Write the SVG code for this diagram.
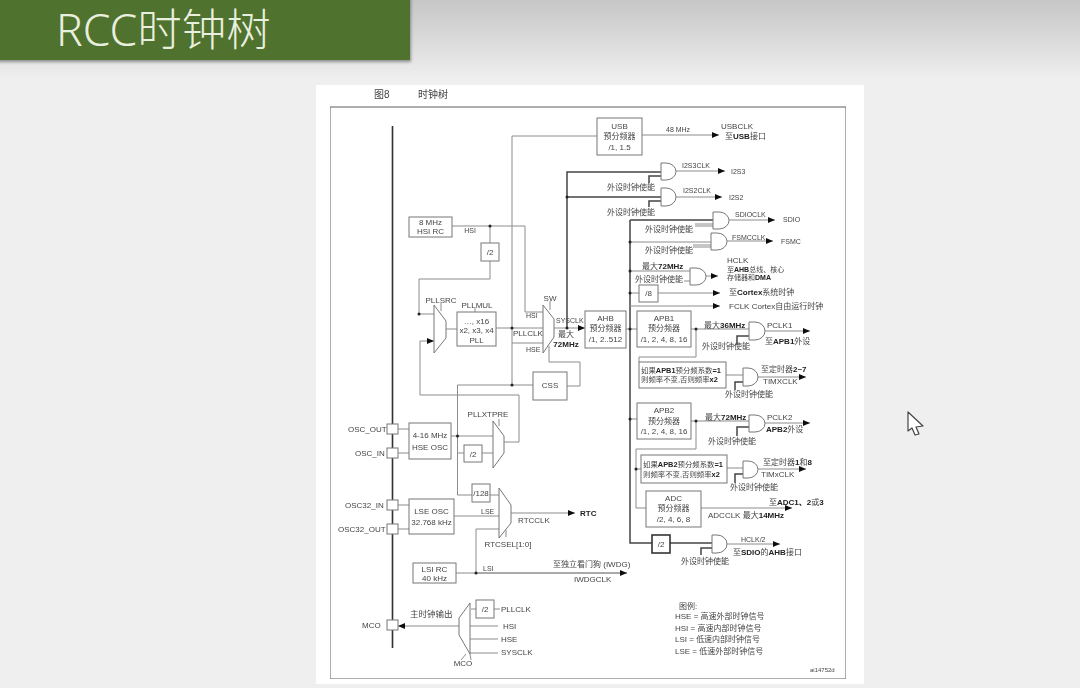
<svg xmlns="http://www.w3.org/2000/svg" width="1080" height="688" viewBox="0 0 1080 688">
<style>
text{font-family:"Liberation Sans","Noto Sans CJK SC",sans-serif;font-size:8px;fill:#444}
.s{font-size:7px}
.m{text-anchor:middle}
.k{font-weight:bold;fill:#222}
.box,.gate,.mux{fill:#fff;stroke:#777;stroke-width:1}
.tb{fill:#fff;stroke:#333;stroke-width:1.6}
.w{fill:none;stroke:#8c8c8c;stroke-width:1}
.d{fill:none;stroke:#444;stroke-width:1.5}
.a{marker-end:url(#arr)}
.dot{fill:#222}
</style>
<defs>
<linearGradient id="bg" x1="0" y1="0" x2="0" y2="1"><stop offset="0" stop-color="#c6c6c6"/><stop offset="1" stop-color="#efefef"/></linearGradient>
<marker id="arr" markerUnits="userSpaceOnUse" markerWidth="8" markerHeight="7" refX="7" refY="3.5" orient="auto"><path d="M0,0.5L7,3.5L0,6.5z" fill="#111"/></marker>
<filter id="soft" x="0" y="0" width="1" height="1"><feGaussianBlur stdDeviation="0.45"/></filter>
<filter id="sh" x="-5%" y="-10%" width="110%" height="125%"><feDropShadow dx="1" dy="2" stdDeviation="1.5" flood-color="#555" flood-opacity="0.6"/></filter>
</defs>
<rect width="1080" height="688" fill="#efefef"/>
<rect width="1080" height="80" fill="url(#bg)"/>
<g id="header"><rect x="-5" y="-5" width="415" height="65" fill="#4f722e" filter="url(#sh)"/>
<text x="56" y="46" style="font-size:44.500px;fill:#e9efdf;font-family:'Noto Sans','Noto Sans CJK SC',sans-serif;font-weight:300">RCC时钟树</text></g>
<rect id="panel" x="316" y="85" width="548" height="599" fill="#fff"/>
<g id="diagram" filter="url(#soft)">
<rect x="330" y="107" width="516" height="572" fill="none" stroke="#777" stroke-width="1.2"/>
<text x="374" y="98" style="font-size:10px">图8</text><text x="418" y="98" style="font-size:10px">时钟树</text>
<g id="connectors">
<path d="M392.500,126V648" fill="none" stroke="#333" stroke-width="1.6"/>
<path class="w" d="M452,226H525V312H543M490,226V243M490,261V279H419V314H434M446,329H457M496,328H543M512,343H543M512,136V385M512,136H597M512,385H457.500V495H472M512,385H533M567,386H580V362H549V346M420,341V395H519V442H504"/>
<path class="w a" d="M420,341H434"/>
<path class="w" d="M398,429H409M398,453H409M398,505H409M398,529H409M451,436H493M457.500,453H464M482,453H493M490,495H499M454,516H499M456,573H476M476,573V529H499M476,573H627M499,419V426M471,609H476M494,609H500M470,626H498M470,639H498M470,653H498M550,301V310M475,308V312M441,303V311M506,530V537M466,654L461,660M470,654L471,660"/>
<path class="w a" d="M476,573H627"/>
<path class="w a" d="M511,513H575"/>
<path class="w a" d="M459,626H398"/>
<path class="w a" d="M642,135H719"/>
<path class="w a" d="M554,328H585"/>
<path class="w" d="M622,329H637M630,419H637M691,329H749M696,329V357H639V362M691,421H749M696,421V449H636V508H646M636,469H641M726,375H743M727,468H743"/>
<path class="d" d="M567,328V172H661M567,197H661M630,220V543H652M630,220H713M670,543H712"/>
<path class="w" d="M630,242H711M630,271H690M630,293H639M684,281H690M695,224H713M695,226H713M693,245H711M693,247H711"/>
<path class="d" d="M649,183V176H661M649,207V201H661M737,345V336H749M735,390V382H743M737,436V427H749M735,483V474H743M701,555V548H712"/>
<path class="w a" d="M658,293H720"/><path class="w a" d="M630,306H720"/>
<path class="w a" d="M676,171H725"/><path class="w a" d="M676,197H722"/><path class="w a" d="M729,220H775"/><path class="w a" d="M727,241H773"/><path class="w a" d="M706,276H718"/><path class="w a" d="M765,331H810"/><path class="w a" d="M758,377H806"/><path class="w a" d="M765,423H810"/><path class="w a" d="M758,469H806"/><path class="w a" d="M701,508H792"/><path class="w a" d="M727,544H780"/>
<g class="dot"><circle cx="490" cy="226" r="1.500"/><circle cx="512" cy="328" r="1.500"/><circle cx="512" cy="385" r="1.500"/><circle cx="567" cy="197" r="1.500"/><circle cx="567" cy="328" r="1.500"/><circle cx="630" cy="242" r="1.500"/><circle cx="630" cy="271" r="1.500"/><circle cx="630" cy="293" r="1.500"/><circle cx="630" cy="329" r="1.500"/><circle cx="630" cy="419" r="1.500"/><circle cx="696" cy="329" r="1.500"/><circle cx="696" cy="421" r="1.500"/><circle cx="636" cy="469" r="1.500"/><circle cx="457.500" cy="436" r="1.500"/><circle cx="476" cy="573" r="1.500"/><circle cx="419" cy="314" r="1.500"/></g>
</g>
<g id="hsi-rc"><rect class="box" x="409" y="217" width="43" height="20"/><text class="m" x="430.500" y="225">8 MHz</text><text class="m" x="430.500" y="234">HSI RC</text></g>
<g id="div2-hsi"><rect class="box" x="481" y="243" width="18" height="18"/><text class="m" x="490" y="255">/2</text></g>
<g id="pllsrc"><path class="mux" d="M434,305L446,321V338L434,353z"/><text class="m" x="441" y="303">PLLSRC</text></g>
<g id="pll"><rect class="box" x="457" y="312" width="39" height="34"/><text class="m" x="476.500" y="324">…, x16</text><text class="m" x="476.500" y="333">x2, x3, x4</text><text class="m" x="476.500" y="343">PLL</text><text class="m" x="477" y="308">PLLMUL</text></g>
<g id="sw"><path class="mux" d="M543,305L554,319V337L543,353z"/><text class="m" x="550" y="301">SW</text></g>
<g id="css"><rect class="box" x="533" y="372" width="34" height="28"/><text class="m" x="550" y="388">CSS</text></g>
<g id="ahb"><rect class="box" x="585" y="311" width="41" height="37"/><text class="m" x="605.500" y="321">AHB</text><text class="m" x="605.500" y="331">预分频器</text><text class="m" x="605.500" y="342" >/1, 2..512</text></g>
<g id="usb"><rect class="box" x="597" y="118" width="45" height="37"/><text class="m" x="619.500" y="129">USB</text><text class="m" x="619.500" y="139">预分频器</text><text class="m" x="619.500" y="150">/1, 1.5</text></g>
<g id="hse-osc"><rect class="box" x="409" y="423" width="42" height="36"/><text class="m" x="430" y="438">4-16 MHz</text><text class="m" x="430" y="450">HSE OSC</text></g>
<g id="div2-hse"><rect class="box" x="464" y="445" width="18" height="17"/><text class="m" x="473" y="457">/2</text></g>
<g id="pllxtpre"><path class="mux" d="M493,421L504,436V453L493,468z"/><text class="m" x="488" y="417">PLLXTPRE</text></g>
<g id="div128"><rect class="box" x="472" y="484" width="18" height="18"/><text class="m" x="481" y="496">/128</text></g>
<g id="rtc-mux"><path class="mux" d="M499,488L511,505V523L499,538z"/><text class="m" x="508" y="547">RTCSEL[1:0]</text></g>
<g id="lse-osc"><rect class="box" x="409" y="499" width="45" height="35"/><text class="m" x="431.500" y="514">LSE OSC</text><text class="m" x="431.500" y="525">32.768 kHz</text></g>
<g id="lsi-rc"><rect class="box" x="413" y="563" width="43" height="20"/><text class="m" x="434.500" y="572">LSI RC</text><text class="m" x="434.500" y="581">40 kHz</text></g>
<g id="mco-mux"><path class="mux" d="M470,603L459,618V635L470,654z"/><text class="m" x="463" y="666">MCO</text></g>
<g id="div2-mco"><rect class="box" x="476" y="600" width="18" height="18"/><text class="m" x="485" y="612">/2</text></g>
<g id="pad-osc-out"><rect class="box" x="387" y="424" width="11" height="10"/><text x="348" y="432">OSC_OUT</text></g>
<g id="pad-osc-in"><rect class="box" x="387" y="448" width="11" height="10"/><text x="355" y="456">OSC_IN</text></g>
<g id="pad-osc32-in"><rect class="box" x="387" y="500" width="11" height="10"/><text x="345" y="508">OSC32_IN</text></g>
<g id="pad-osc32-out"><rect class="box" x="387" y="524" width="11" height="10"/><text x="338" y="532">OSC32_OUT</text></g>
<g id="pad-mco"><rect class="box" x="387" y="620" width="11" height="10"/><text x="362" y="628">MCO</text></g>
<g id="gate-i2s3"><path class="gate" d="M661,163h5a10,8.500 0 0 1 0,17h-5z"/></g>
<g id="gate-i2s2"><path class="gate" d="M661,188h5a10,9 0 0 1 0,18h-5z"/></g>
<g id="gate-sdio"><path class="gate" d="M713,212h6a10,8.500 0 0 1 0,17h-6z"/></g>
<g id="gate-fsmc"><path class="gate" d="M711,233h6a10,8.500 0 0 1 0,17h-6z"/></g>
<g id="gate-hclk"><path class="gate" d="M690,268h6a10,8.500 0 0 1 0,17h-6z"/></g>
<g id="div8"><rect class="box" x="639" y="285" width="19" height="17"/><text class="m" x="648.500" y="296">/8</text></g>
<g id="apb1"><rect class="box" x="637" y="311" width="54" height="36"/><text class="m" x="664" y="321">APB1</text><text class="m" x="664" y="331">预分频器</text><text class="m" x="664" y="342">/1, 2, 4, 8, 16</text></g>
<g id="gate-pclk1"><path class="gate" d="M749,322h6a10,9 0 0 1 0,18h-6z"/></g>
<g id="apb1-mul"><rect class="box" x="639" y="362" width="87" height="26"/><text x="641" y="373" style="font-size:7.400px">如果<tspan class="k">APB1</tspan>预分频系数<tspan class="k">=1</tspan></text><text x="641" y="382" style="font-size:7.400px">则频率不变,否则频率<tspan class="k">x2</tspan></text></g>
<g id="gate-timx"><path class="gate" d="M743,368h5a10,9 0 0 1 0,18h-5z"/></g>
<g id="apb2"><rect class="box" x="637" y="403" width="54" height="36"/><text class="m" x="664" y="413">APB2</text><text class="m" x="664" y="424">预分频器</text><text class="m" x="664" y="434">/1, 2, 4, 8, 16</text></g>
<g id="gate-pclk2"><path class="gate" d="M749,415h6a10,8.500 0 0 1 0,17h-6z"/></g>
<g id="apb2-mul"><rect class="box" x="641" y="455" width="86" height="28"/><text x="643" y="467" style="font-size:7.400px">如果<tspan class="k">APB2</tspan>预分频系数<tspan class="k">=1</tspan></text><text x="643" y="477" style="font-size:7.400px">则频率不变,否则频率<tspan class="k">x2</tspan></text></g>
<g id="gate-tim18"><path class="gate" d="M743,461h5a10,8.500 0 0 1 0,17h-5z"/></g>
<g id="adc"><rect class="box" x="646" y="491" width="55" height="36"/><text class="m" x="673.500" y="501">ADC</text><text class="m" x="673.500" y="511">预分频器</text><text class="m" x="673.500" y="522">/2, 4, 6, 8</text></g>
<g id="div2-sdio"><rect class="tb" x="652" y="535" width="18" height="18"/><text class="m" x="661" y="547">/2</text></g>
<g id="gate-sdio-ahb"><path class="gate" d="M712,535h5a10,9 0 0 1 0,18h-5z"/></g>
<g id="labels">
<text x="470" y="233" text-anchor="middle" class="s">HSI</text>
<text x="526" y="318" class="s">HSI</text><text x="513" y="336">PLLCLK</text><text x="526" y="352" class="s">HSE</text>
<text x="556" y="323" class="s">SYSCLK</text><text class="m" x="566" y="337">最大</text><text class="m k" x="566" y="347">72MHz</text>
<text x="666" y="132" class="s">48 MHz</text><text x="721" y="129">USBCLK</text><text x="725" y="139">至<tspan class="k">USB</tspan>接口</text>
<text x="682" y="168" class="s">I2S3CLK</text><text x="731" y="174" class="s">I2S3</text><text x="683" y="193" class="s">I2S2CLK</text><text x="729" y="200" class="s">I2S2</text>
<text x="607" y="190">外设时钟使能</text><text x="607" y="215">外设时钟使能</text>
<text x="735" y="217" class="s">SDIOCLK</text><text x="783" y="222" class="s">SDIO</text><text x="645" y="232">外设时钟使能</text>
<text x="732" y="240" class="s">FSMCCLK</text><text x="781" y="244" class="s">FSMC</text><text x="645" y="253">外设时钟使能</text>
<text x="642" y="269">最大<tspan class="k">72MHz</tspan></text><text x="635" y="282">外设时钟使能</text>
<text x="727" y="263">HCLK</text><text x="727" y="272" class="s">至<tspan class="k">AHB</tspan>总线、核心</text><text x="727" y="280" class="s">存储器和<tspan class="k">DMA</tspan></text>
<text x="729" y="295">至<tspan class="k">Cortex</tspan>系统时钟</text><text x="729" y="309">FCLK Cortex自由运行时钟</text>
<text x="704" y="328">最大<tspan class="k">36MHz</tspan></text><text x="767" y="328">PCLK1</text><text x="765" y="344">至<tspan class="k">APB1</tspan>外设</text><text x="702" y="349">外设时钟使能</text>
<text x="761" y="372">至定时器<tspan class="k">2~7</tspan></text><text x="763" y="384">TIMXCLK</text><text x="725" y="397">外设时钟使能</text>
<text x="705" y="420">最大<tspan class="k">72MHz</tspan></text><text x="767" y="420">PCLK2</text><text x="766" y="432"><tspan class="k">APB2</tspan>外设</text><text x="708" y="444">外设时钟使能</text>
<text x="763" y="465">至定时器<tspan class="k">1</tspan>和<tspan class="k">8</tspan></text><text x="761" y="477">TIMxCLK</text><text x="730" y="490">外设时钟使能</text>
<text x="769" y="505" >至<tspan class="k">ADC1、2</tspan>或<tspan class="k">3</tspan></text><text x="708" y="518">ADCCLK  最大<tspan class="k">14MHz</tspan></text>
<text x="741" y="542" class="s">HCLK/2</text><text x="733" y="555">至<tspan class="k">SDIO</tspan>的<tspan class="k">AHB</tspan>接口</text><text x="681" y="564">外设时钟使能</text>
<text x="481" y="514" class="s">LSE</text><text x="518" y="523">RTCCLK</text><text x="580" y="516" class="k">RTC</text><text x="483" y="571" class="s">LSI</text>
<text x="553" y="567">至独立看门狗  (IWDG)</text><text x="574" y="582">IWDGCLK</text>
<text x="410" y="617" style="font-size:8.500px">主时钟输出</text>
<text x="501" y="612">PLLCLK</text><text x="503" y="629">HSI</text><text x="501" y="642">HSE</text><text x="501" y="655">SYSCLK</text>
<text x="679" y="609">图例:</text><text x="675" y="619">HSE = 高速外部时钟信号</text><text x="675" y="631">HSI = 高速内部时钟信号</text><text x="675" y="642">LSI = 低速内部时钟信号</text><text x="675" y="654">LSE = 低速外部时钟信号</text>
<text x="810" y="672" style="font-size:6px">ai14752d</text>
</g>
</g>
<path id="cursor" d="M908,412V431L912,428L915,435L919,434L916,427L923,426z" fill="#fff" stroke="#444" stroke-width="1.2" stroke-linejoin="round"/>
</svg>
